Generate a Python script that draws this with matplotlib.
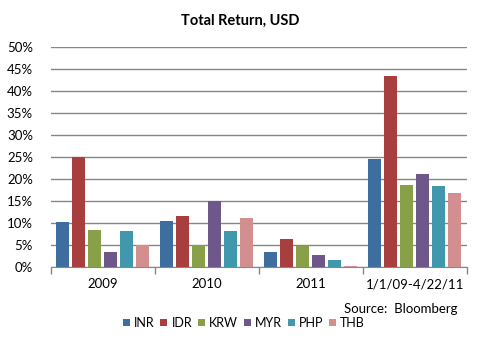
import numpy as np
import matplotlib
matplotlib.use("Agg")
import matplotlib.pyplot as plt

plt.rcParams["font.family"] = ["Lato", "DejaVu Sans"]

# total return in USD, percent
periods = ["2009", "2010", "2011", "1/1/09-4/22/11"]
currencies = ["INR", "IDR", "KRW", "MYR", "PHP", "THB"]
inr = [10.3, 10.5, 3.5, 24.6]
idr = [25.0, 11.7, 6.4, 43.5]
krw = [8.5, 5.0, 4.9, 18.7]
myr = [3.5, 15.0, 2.8, 21.2]
php = [8.3, 8.3, 1.7, 18.5]
thb = [5.0, 11.2, 0.4, 16.9]
series = [inr, idr, krw, myr, php, thb]
colors = ["#3E6D9F", "#A63F3E", "#88A047", "#6E5789", "#4198AD", "#D38F8F"]

fig = plt.figure(figsize=(4.82, 3.43), dpi=100)
ax = fig.add_axes([51 / 482, 1 - 267.3 / 343, 416 / 482, 220 / 343])

step, width = 0.154, 0.125
x = np.arange(len(periods))
for i, (vals, c) in enumerate(zip(series, colors)):
    off = -0.5 + 0.048 + i * step + width / 2
    ax.bar(x + off, vals, width=width, color=c, label=currencies[i], zorder=3)

ax.set_xlim(-0.5, len(periods) - 0.5)
ax.set_ylim(0, 50)
ax.set_yticks(range(0, 51, 5))
ax.set_yticklabels([f"{v}%" for v in range(0, 51, 5)], fontsize=9.5)
ax.yaxis.grid(True, color="#868686", lw=1.0, zorder=0)
ax.tick_params(axis="y", length=0, pad=13)

# boundary ticks between periods, labels centred on each group
ax.set_xticks(np.arange(-0.5, len(periods), 1.0))
ax.set_xticklabels([])
ax.tick_params(axis="x", length=5, width=1, color="#868686", direction="out")
ax.set_xticks(x, minor=True)
ax.set_xticklabels(periods, minor=True, fontsize=9.5)
ax.tick_params(axis="x", which="minor", length=0, pad=8)

for s in ["left", "right", "top"]:
    ax.spines[s].set_visible(False)
ax.spines["bottom"].set_color("#868686")

fig.text(240 / 482, 1 - 21 / 343, "Total Return, USD", ha="center", va="center",
         fontsize=10.5, fontweight="bold")
fig.text(458 / 482, 1 - 309 / 343, "Source:  Bloomberg", ha="right", va="center", fontsize=9.5)

fig.legend(loc="center", bbox_to_anchor=(244 / 482, 1 - 323 / 343), ncol=6,
           frameon=False, fontsize=9, handlelength=0.55, handleheight=0.55,
           handletextpad=0.35, columnspacing=0.45, borderpad=0)

fig.savefig("out.png", dpi=100)
